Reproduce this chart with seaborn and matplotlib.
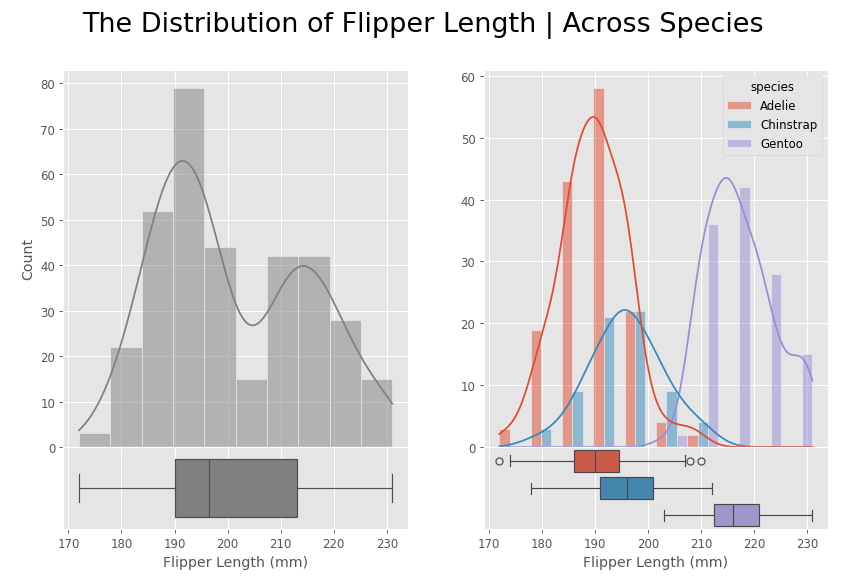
import pandas as pd
import matplotlib.pyplot as plt
import seaborn as sns

plt.style.use("ggplot")

# flipper length (mm) -> number of penguins
adelie_len = [172, 174, 176, 178, 180, 181, 182, 183, 184, 185, 186, 187, 188, 189,
              190, 191, 192, 193, 194, 195, 196, 197, 198, 199, 200, 201, 202, 203, 205, 207, 208, 210]
adelie_n = [1, 1, 1, 4, 5, 5, 3, 2, 5, 6, 15, 9, 5, 3,
            22, 7, 6, 8, 5, 10, 10, 5, 4, 1, 1, 1, 1, 1, 1, 1, 1, 1]
chinstrap_len = [178, 181, 183, 185, 187, 189, 190, 191, 192, 193, 194, 195,
                 196, 197, 198, 199, 200, 201, 202, 203, 205, 206, 207, 208, 210, 212]
chinstrap_n = [1, 1, 1, 2, 3, 4, 3, 3, 2, 4, 2, 7,
               5, 4, 3, 2, 3, 5, 2, 2, 3, 1, 1, 1, 2, 1]
gentoo_len = [203, 207, 208, 209, 210, 211, 212, 213, 214, 215, 216, 217, 218, 219,
              220, 221, 222, 223, 224, 225, 226, 228, 229, 230, 231]
gentoo_n = [1, 1, 3, 5, 10, 4, 7, 7, 6, 12, 8, 6, 5, 5,
            8, 5, 6, 2, 3, 4, 1, 4, 2, 7, 1]

species = ["Adelie", "Chinstrap", "Gentoo"]
rows = []
for sp, lens, ns in [("Adelie", adelie_len, adelie_n),
                     ("Chinstrap", chinstrap_len, chinstrap_n),
                     ("Gentoo", gentoo_len, gentoo_n)]:
    for v, n in zip(lens, ns):
        rows += [(sp, v)] * n
df = pd.DataFrame(rows, columns=["species", "flipper_length_mm"])

palette = {"Adelie": "#E24A33", "Chinstrap": "#348ABD", "Gentoo": "#988ED5"}

fig = plt.figure(figsize=(10, 6.97), dpi=84.5)
gs = fig.add_gridspec(2, 2, height_ratios=[4.6, 1], hspace=0, wspace=0.22,
                      left=0.075, right=0.98, top=0.88, bottom=0.1)
ax1 = fig.add_subplot(gs[0, 0])
ax2 = fig.add_subplot(gs[1, 0], sharex=ax1)
ax3 = fig.add_subplot(gs[0, 1])
ax4 = fig.add_subplot(gs[1, 1], sharex=ax3)

sns.histplot(data=df, x="flipper_length_mm", bins=10, kde=True, color="gray", ax=ax1)
sns.boxplot(data=df, x="flipper_length_mm", color="gray", width=0.7, ax=ax2)

sns.histplot(data=df, x="flipper_length_mm", hue="species", hue_order=species, bins=10,
             kde=True, multiple="dodge", palette=palette, ax=ax3)
sns.boxplot(data=df, x="flipper_length_mm", y="species", hue="species", order=species,
            palette=palette, width=0.8, saturation=0.75, ax=ax4)

for ax in (ax1, ax3):
    ax.set_xlabel("")
    ax.tick_params(labelbottom=False)
ax3.set_ylabel("")
ax3.set_ylim(0, 61)
for ax in (ax2, ax4):
    ax.set_xlabel("Flipper Length (mm)", fontsize=12)
    ax.set_ylabel("")
    ax.set_yticks([])
ax1.set_ylabel("Count", fontsize=12)
ax1.set_xticks(range(170, 231, 10))
ax3.set_xticks(range(170, 231, 10))

fig.suptitle("The Distribution of Flipper Length | Across Species", fontsize=23)
fig.savefig("out.png", dpi=84.5)
